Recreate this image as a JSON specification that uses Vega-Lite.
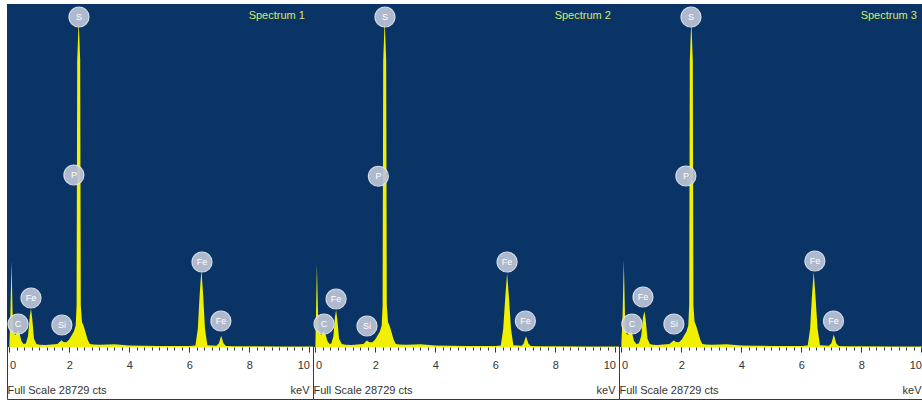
{
  "$schema": "https://vega.github.io/schema/vega-lite/v6.json",
  "background": "white",
  "padding": {"left": 5, "top": 3, "right": 0, "bottom": 0},
  "spacing": 0,
  "bounds": "flush",
  "config": {
    "view": {"stroke": "#3a3a3a", "strokeWidth": 1, "fill": "white"},
    "font": "Liberation Sans",
    "concat": {"spacing": 0}
  },
  "datasets": {
    "spec": [
      {"p":1,"e":0.00,"c":300},{"p":1,"e":0.03,"c":2500},{"p":1,"e":0.07,"c":7200},{"p":1,"e":0.11,"c":2500},{"p":1,"e":0.15,"c":1100},{"p":1,"e":0.20,"c":1000},{"p":1,"e":0.25,"c":1300},{"p":1,"e":0.29,"c":1500},{"p":1,"e":0.34,"c":1100},{"p":1,"e":0.40,"c":500},{"p":1,"e":0.47,"c":250},{"p":1,"e":0.55,"c":300},{"p":1,"e":0.62,"c":900},{"p":1,"e":0.68,"c":2600},{"p":1,"e":0.72,"c":3200},{"p":1,"e":0.76,"c":2400},{"p":1,"e":0.82,"c":700},{"p":1,"e":0.90,"c":250},{"p":1,"e":1.00,"c":180},{"p":1,"e":1.20,"c":170},{"p":1,"e":1.40,"c":200},{"p":1,"e":1.60,"c":260},{"p":1,"e":1.70,"c":480},{"p":1,"e":1.74,"c":560},{"p":1,"e":1.80,"c":420},{"p":1,"e":1.90,"c":400},{"p":1,"e":2.00,"c":650},{"p":1,"e":2.08,"c":1000},{"p":1,"e":2.15,"c":1300},{"p":1,"e":2.21,"c":1800},{"p":1,"e":2.24,"c":3500},{"p":1,"e":2.26,"c":24000},{"p":1,"e":2.31,"c":27400},{"p":1,"e":2.36,"c":24000},{"p":1,"e":2.38,"c":3500},{"p":1,"e":2.42,"c":2100},{"p":1,"e":2.47,"c":1800},{"p":1,"e":2.53,"c":1300},{"p":1,"e":2.61,"c":600},{"p":1,"e":2.68,"c":250},{"p":1,"e":2.80,"c":200},{"p":1,"e":3.00,"c":180},{"p":1,"e":3.30,"c":200},{"p":1,"e":3.50,"c":220},{"p":1,"e":3.70,"c":180},{"p":1,"e":4.00,"c":120},{"p":1,"e":4.50,"c":100},{"p":1,"e":5.00,"c":90},{"p":1,"e":5.50,"c":80},{"p":1,"e":6.00,"c":80},{"p":1,"e":6.20,"c":120},{"p":1,"e":6.28,"c":1500},{"p":1,"e":6.34,"c":4300},{"p":1,"e":6.40,"c":6500},{"p":1,"e":6.46,"c":4300},{"p":1,"e":6.52,"c":1500},{"p":1,"e":6.60,"c":150},{"p":1,"e":6.90,"c":100},{"p":1,"e":6.98,"c":300},{"p":1,"e":7.06,"c":950},{"p":1,"e":7.14,"c":300},{"p":1,"e":7.22,"c":90},{"p":1,"e":7.50,"c":70},{"p":1,"e":8.00,"c":60},{"p":1,"e":9.00,"c":50},{"p":1,"e":10.00,"c":40},{"p":1,"e":10.12,"c":40},

      {"p":2,"e":0.00,"c":300},{"p":2,"e":0.02,"c":2800},{"p":2,"e":0.05,"c":6950},{"p":2,"e":0.09,"c":2600},{"p":2,"e":0.14,"c":1200},{"p":2,"e":0.20,"c":1000},{"p":2,"e":0.25,"c":1250},{"p":2,"e":0.29,"c":1450},{"p":2,"e":0.34,"c":1050},{"p":2,"e":0.40,"c":500},{"p":2,"e":0.47,"c":250},{"p":2,"e":0.53,"c":300},{"p":2,"e":0.60,"c":900},{"p":2,"e":0.65,"c":2500},{"p":2,"e":0.69,"c":3100},{"p":2,"e":0.73,"c":2300},{"p":2,"e":0.79,"c":700},{"p":2,"e":0.88,"c":250},{"p":2,"e":1.00,"c":180},{"p":2,"e":1.20,"c":170},{"p":2,"e":1.40,"c":200},{"p":2,"e":1.60,"c":250},{"p":2,"e":1.68,"c":450},{"p":2,"e":1.72,"c":540},{"p":2,"e":1.80,"c":400},{"p":2,"e":1.90,"c":400},{"p":2,"e":2.00,"c":650},{"p":2,"e":2.08,"c":1000},{"p":2,"e":2.15,"c":1300},{"p":2,"e":2.21,"c":1800},{"p":2,"e":2.24,"c":3500},{"p":2,"e":2.26,"c":24000},{"p":2,"e":2.31,"c":27400},{"p":2,"e":2.36,"c":24000},{"p":2,"e":2.38,"c":3500},{"p":2,"e":2.42,"c":2100},{"p":2,"e":2.47,"c":1800},{"p":2,"e":2.53,"c":1300},{"p":2,"e":2.61,"c":600},{"p":2,"e":2.68,"c":250},{"p":2,"e":2.80,"c":200},{"p":2,"e":3.00,"c":180},{"p":2,"e":3.30,"c":210},{"p":2,"e":3.50,"c":230},{"p":2,"e":3.70,"c":180},{"p":2,"e":4.00,"c":120},{"p":2,"e":4.50,"c":100},{"p":2,"e":5.00,"c":90},{"p":2,"e":5.50,"c":80},{"p":2,"e":6.00,"c":80},{"p":2,"e":6.18,"c":120},{"p":2,"e":6.26,"c":1500},{"p":2,"e":6.33,"c":4200},{"p":2,"e":6.39,"c":6200},{"p":2,"e":6.45,"c":4200},{"p":2,"e":6.52,"c":1500},{"p":2,"e":6.60,"c":150},{"p":2,"e":6.88,"c":100},{"p":2,"e":6.94,"c":300},{"p":2,"e":7.02,"c":900},{"p":2,"e":7.10,"c":300},{"p":2,"e":7.18,"c":90},{"p":2,"e":7.50,"c":70},{"p":2,"e":8.00,"c":60},{"p":2,"e":9.00,"c":50},{"p":2,"e":10.00,"c":40},{"p":2,"e":10.12,"c":40},

      {"p":3,"e":0.00,"c":300},{"p":3,"e":0.04,"c":2700},{"p":3,"e":0.08,"c":7300},{"p":3,"e":0.12,"c":2600},{"p":3,"e":0.16,"c":1150},{"p":3,"e":0.22,"c":1000},{"p":3,"e":0.27,"c":1300},{"p":3,"e":0.31,"c":1500},{"p":3,"e":0.36,"c":1100},{"p":3,"e":0.42,"c":500},{"p":3,"e":0.50,"c":250},{"p":3,"e":0.58,"c":300},{"p":3,"e":0.66,"c":900},{"p":3,"e":0.72,"c":2500},{"p":3,"e":0.77,"c":3000},{"p":3,"e":0.81,"c":2300},{"p":3,"e":0.87,"c":700},{"p":3,"e":0.95,"c":250},{"p":3,"e":1.05,"c":180},{"p":3,"e":1.20,"c":170},{"p":3,"e":1.40,"c":200},{"p":3,"e":1.60,"c":260},{"p":3,"e":1.70,"c":470},{"p":3,"e":1.75,"c":550},{"p":3,"e":1.82,"c":420},{"p":3,"e":1.92,"c":400},{"p":3,"e":2.02,"c":650},{"p":3,"e":2.10,"c":1000},{"p":3,"e":2.17,"c":1300},{"p":3,"e":2.23,"c":1800},{"p":3,"e":2.26,"c":3500},{"p":3,"e":2.28,"c":24000},{"p":3,"e":2.33,"c":27400},{"p":3,"e":2.38,"c":24000},{"p":3,"e":2.40,"c":3500},{"p":3,"e":2.44,"c":2100},{"p":3,"e":2.49,"c":1800},{"p":3,"e":2.55,"c":1300},{"p":3,"e":2.63,"c":600},{"p":3,"e":2.70,"c":250},{"p":3,"e":2.82,"c":200},{"p":3,"e":3.00,"c":180},{"p":3,"e":3.30,"c":210},{"p":3,"e":3.50,"c":220},{"p":3,"e":3.70,"c":180},{"p":3,"e":4.00,"c":120},{"p":3,"e":4.50,"c":100},{"p":3,"e":5.00,"c":90},{"p":3,"e":5.50,"c":80},{"p":3,"e":6.00,"c":80},{"p":3,"e":6.21,"c":120},{"p":3,"e":6.29,"c":1500},{"p":3,"e":6.35,"c":4200},{"p":3,"e":6.41,"c":6300},{"p":3,"e":6.47,"c":4200},{"p":3,"e":6.54,"c":1500},{"p":3,"e":6.62,"c":150},{"p":3,"e":6.92,"c":100},{"p":3,"e":7.00,"c":320},{"p":3,"e":7.08,"c":1050},{"p":3,"e":7.16,"c":320},{"p":3,"e":7.24,"c":90},{"p":3,"e":7.50,"c":70},{"p":3,"e":8.00,"c":60},{"p":3,"e":9.00,"c":50},{"p":3,"e":10.00,"c":40},{"p":3,"e":10.12,"c":40}
    ],
    "lab": [
      {"p":1,"e":0.29,"c":1926,"t":"C"},{"p":1,"e":0.72,"c":4104,"t":"Fe"},{"p":1,"e":1.75,"c":1843,"t":"Si"},{"p":1,"e":2.15,"c":14407,"t":"P"},{"p":1,"e":2.32,"c":27640,"t":"S"},{"p":1,"e":6.42,"c":7120,"t":"Fe"},{"p":1,"e":7.05,"c":2178,"t":"Fe"},
      {"p":2,"e":0.29,"c":1926,"t":"C"},{"p":2,"e":0.69,"c":4020,"t":"Fe"},{"p":2,"e":1.72,"c":1760,"t":"Si"},{"p":2,"e":2.10,"c":14300,"t":"P"},{"p":2,"e":2.32,"c":27640,"t":"S"},{"p":2,"e":6.39,"c":7120,"t":"Fe"},{"p":2,"e":7.00,"c":2178,"t":"Fe"},
      {"p":3,"e":0.35,"c":1926,"t":"C"},{"p":3,"e":0.72,"c":4188,"t":"Fe"},{"p":3,"e":1.75,"c":1926,"t":"Si"},{"p":3,"e":2.15,"c":14323,"t":"P"},{"p":3,"e":2.32,"c":27640,"t":"S"},{"p":3,"e":6.45,"c":7203,"t":"Fe"},{"p":3,"e":7.07,"c":2178,"t":"Fe"}
    ],
    "ttl": [
      {"p":1,"e":9.85,"c":27700,"t":"Spectrum 1"},
      {"p":2,"e":9.85,"c":27700,"t":"Spectrum 2"},
      {"p":3,"e":9.85,"c":27700,"t":"Spectrum 3"}
    ]
  },
  "hconcat": [
    {
      "width": 306, "height": 395,
      "resolve": {"axis": {"x": "independent"}},
      "layer": [
        {"data": {"name": "ttl"}, "transform": [{"filter": "datum.p == 1"}], "mark": {"type": "rect", "color": "#0b3466"},
         "encoding": {"y": {"datum": 0, "type": "quantitative", "scale": {"domain": [-4356, 28729], "nice": false, "zero": false}, "axis": null}, "y2": {"datum": 28729}}},
        {"data": {"name": "spec"}, "transform": [{"filter": "datum.p == 1"}], "mark": {"type": "area", "color": "#f0f000", "interpolate": "linear"},
         "encoding": {
           "x": {"field": "e", "type": "quantitative", "scale": {"domain": [-0.08, 10.12], "nice": false, "zero": false},
                 "axis": {"orient": "bottom", "values": [0,2,4,6,8,10], "offset": -52, "domain": false, "grid": false, "tickSize": 5, "tickColor": "#333", "labelFont": "Liberation Sans", "labelFontSize": 11, "labelColor": "#333", "labelPadding": 7, "labelFlush": 4, "title": "Full Scale 28729 cts", "titleFont": "Liberation Sans", "titleFontSize": 11, "titleFontWeight": "normal", "titleColor": "#333", "titleAnchor": "start", "titleAlign": "left", "titleBaseline": "middle", "titleY": 43}},
           "y": {"field": "c", "type": "quantitative", "stack": null, "axis": null},
           "y2": {"datum": 0}}},
        {"data": {"name": "lab"}, "transform": [{"filter": "datum.p == 1"}], "mark": {"type": "point", "filled": true, "color": "#bcc5d6", "opacity": 0.92, "size": 400, "stroke": "#e4e9f2", "strokeWidth": 1.2},
         "encoding": {
           "x": {"field": "e", "type": "quantitative",
                 "axis": {"orient": "bottom", "values": [0,0.25,0.5,0.75,1,1.25,1.5,1.75,2,2.25,2.5,2.75,3,3.25,3.5,3.75,4,4.25,4.5,4.75,5,5.25,5.5,5.75,6,6.25,6.5,6.75,7,7.25,7.5,7.75,8,8.25,8.5,8.75,9,9.25,9.5,9.75,10], "offset": -52, "domain": false, "grid": false, "labels": false, "tickSize": 3, "tickColor": "#333", "title": "keV", "titleFont": "Liberation Sans", "titleFontSize": 11, "titleFontWeight": "normal", "titleColor": "#333", "titleAnchor": "end", "titleAlign": "right", "titleBaseline": "middle", "titleY": 43, "titleX": 302}},
           "y": {"field": "c", "type": "quantitative", "axis": null}}},
        {"data": {"name": "lab"}, "transform": [{"filter": "datum.p == 1"}], "mark": {"type": "text", "color": "#ffffff", "fontSize": 9, "font": "Liberation Sans", "baseline": "middle", "align": "center"},
         "encoding": {"x": {"field": "e", "type": "quantitative", "axis": null}, "y": {"field": "c", "type": "quantitative", "axis": null}, "text": {"field": "t"}}},
        {"data": {"name": "ttl"}, "transform": [{"filter": "datum.p == 1"}], "mark": {"type": "text", "color": "#d6e86a", "fontSize": 11, "font": "Liberation Sans", "baseline": "middle", "align": "right"},
         "encoding": {"x": {"field": "e", "type": "quantitative", "axis": null}, "y": {"field": "c", "type": "quantitative", "axis": null}, "text": {"field": "t"}}}
      ]
    },
    {
      "width": 306, "height": 395,
      "resolve": {"axis": {"x": "independent"}},
      "layer": [
        {"data": {"name": "ttl"}, "transform": [{"filter": "datum.p == 2"}], "mark": {"type": "rect", "color": "#0b3466"},
         "encoding": {"y": {"datum": 0, "type": "quantitative", "scale": {"domain": [-4356, 28729], "nice": false, "zero": false}, "axis": null}, "y2": {"datum": 28729}}},
        {"data": {"name": "spec"}, "transform": [{"filter": "datum.p == 2"}], "mark": {"type": "area", "color": "#f0f000", "interpolate": "linear"},
         "encoding": {
           "x": {"field": "e", "type": "quantitative", "scale": {"domain": [-0.08, 10.12], "nice": false, "zero": false},
                 "axis": {"orient": "bottom", "values": [0,2,4,6,8,10], "offset": -52, "domain": false, "grid": false, "tickSize": 5, "tickColor": "#333", "labelFont": "Liberation Sans", "labelFontSize": 11, "labelColor": "#333", "labelPadding": 7, "labelFlush": 4, "title": "Full Scale 28729 cts", "titleFont": "Liberation Sans", "titleFontSize": 11, "titleFontWeight": "normal", "titleColor": "#333", "titleAnchor": "start", "titleAlign": "left", "titleBaseline": "middle", "titleY": 43}},
           "y": {"field": "c", "type": "quantitative", "stack": null, "axis": null},
           "y2": {"datum": 0}}},
        {"data": {"name": "lab"}, "transform": [{"filter": "datum.p == 2"}], "mark": {"type": "point", "filled": true, "color": "#bcc5d6", "opacity": 0.92, "size": 400, "stroke": "#e4e9f2", "strokeWidth": 1.2},
         "encoding": {
           "x": {"field": "e", "type": "quantitative",
                 "axis": {"orient": "bottom", "values": [0,0.25,0.5,0.75,1,1.25,1.5,1.75,2,2.25,2.5,2.75,3,3.25,3.5,3.75,4,4.25,4.5,4.75,5,5.25,5.5,5.75,6,6.25,6.5,6.75,7,7.25,7.5,7.75,8,8.25,8.5,8.75,9,9.25,9.5,9.75,10], "offset": -52, "domain": false, "grid": false, "labels": false, "tickSize": 3, "tickColor": "#333", "title": "keV", "titleFont": "Liberation Sans", "titleFontSize": 11, "titleFontWeight": "normal", "titleColor": "#333", "titleAnchor": "end", "titleAlign": "right", "titleBaseline": "middle", "titleY": 43, "titleX": 302}},
           "y": {"field": "c", "type": "quantitative", "axis": null}}},
        {"data": {"name": "lab"}, "transform": [{"filter": "datum.p == 2"}], "mark": {"type": "text", "color": "#ffffff", "fontSize": 9, "font": "Liberation Sans", "baseline": "middle", "align": "center"},
         "encoding": {"x": {"field": "e", "type": "quantitative", "axis": null}, "y": {"field": "c", "type": "quantitative", "axis": null}, "text": {"field": "t"}}},
        {"data": {"name": "ttl"}, "transform": [{"filter": "datum.p == 2"}], "mark": {"type": "text", "color": "#d6e86a", "fontSize": 11, "font": "Liberation Sans", "baseline": "middle", "align": "right"},
         "encoding": {"x": {"field": "e", "type": "quantitative", "axis": null}, "y": {"field": "c", "type": "quantitative", "axis": null}, "text": {"field": "t"}}}
      ]
    },
    {
      "width": 306, "height": 395,
      "resolve": {"axis": {"x": "independent"}},
      "layer": [
        {"data": {"name": "ttl"}, "transform": [{"filter": "datum.p == 3"}], "mark": {"type": "rect", "color": "#0b3466"},
         "encoding": {"y": {"datum": 0, "type": "quantitative", "scale": {"domain": [-4356, 28729], "nice": false, "zero": false}, "axis": null}, "y2": {"datum": 28729}}},
        {"data": {"name": "spec"}, "transform": [{"filter": "datum.p == 3"}], "mark": {"type": "area", "color": "#f0f000", "interpolate": "linear"},
         "encoding": {
           "x": {"field": "e", "type": "quantitative", "scale": {"domain": [-0.08, 10.12], "nice": false, "zero": false},
                 "axis": {"orient": "bottom", "values": [0,2,4,6,8,10], "offset": -52, "domain": false, "grid": false, "tickSize": 5, "tickColor": "#333", "labelFont": "Liberation Sans", "labelFontSize": 11, "labelColor": "#333", "labelPadding": 7, "labelFlush": 4, "title": "Full Scale 28729 cts", "titleFont": "Liberation Sans", "titleFontSize": 11, "titleFontWeight": "normal", "titleColor": "#333", "titleAnchor": "start", "titleAlign": "left", "titleBaseline": "middle", "titleY": 43}},
           "y": {"field": "c", "type": "quantitative", "stack": null, "axis": null},
           "y2": {"datum": 0}}},
        {"data": {"name": "lab"}, "transform": [{"filter": "datum.p == 3"}], "mark": {"type": "point", "filled": true, "color": "#bcc5d6", "opacity": 0.92, "size": 400, "stroke": "#e4e9f2", "strokeWidth": 1.2},
         "encoding": {
           "x": {"field": "e", "type": "quantitative",
                 "axis": {"orient": "bottom", "values": [0,0.25,0.5,0.75,1,1.25,1.5,1.75,2,2.25,2.5,2.75,3,3.25,3.5,3.75,4,4.25,4.5,4.75,5,5.25,5.5,5.75,6,6.25,6.5,6.75,7,7.25,7.5,7.75,8,8.25,8.5,8.75,9,9.25,9.5,9.75,10], "offset": -52, "domain": false, "grid": false, "labels": false, "tickSize": 3, "tickColor": "#333", "title": "keV", "titleFont": "Liberation Sans", "titleFontSize": 11, "titleFontWeight": "normal", "titleColor": "#333", "titleAnchor": "end", "titleAlign": "right", "titleBaseline": "middle", "titleY": 43, "titleX": 302}},
           "y": {"field": "c", "type": "quantitative", "axis": null}}},
        {"data": {"name": "lab"}, "transform": [{"filter": "datum.p == 3"}], "mark": {"type": "text", "color": "#ffffff", "fontSize": 9, "font": "Liberation Sans", "baseline": "middle", "align": "center"},
         "encoding": {"x": {"field": "e", "type": "quantitative", "axis": null}, "y": {"field": "c", "type": "quantitative", "axis": null}, "text": {"field": "t"}}},
        {"data": {"name": "ttl"}, "transform": [{"filter": "datum.p == 3"}], "mark": {"type": "text", "color": "#d6e86a", "fontSize": 11, "font": "Liberation Sans", "baseline": "middle", "align": "right"},
         "encoding": {"x": {"field": "e", "type": "quantitative", "axis": null}, "y": {"field": "c", "type": "quantitative", "axis": null}, "text": {"field": "t"}}}
      ]
    }
  ]
}
